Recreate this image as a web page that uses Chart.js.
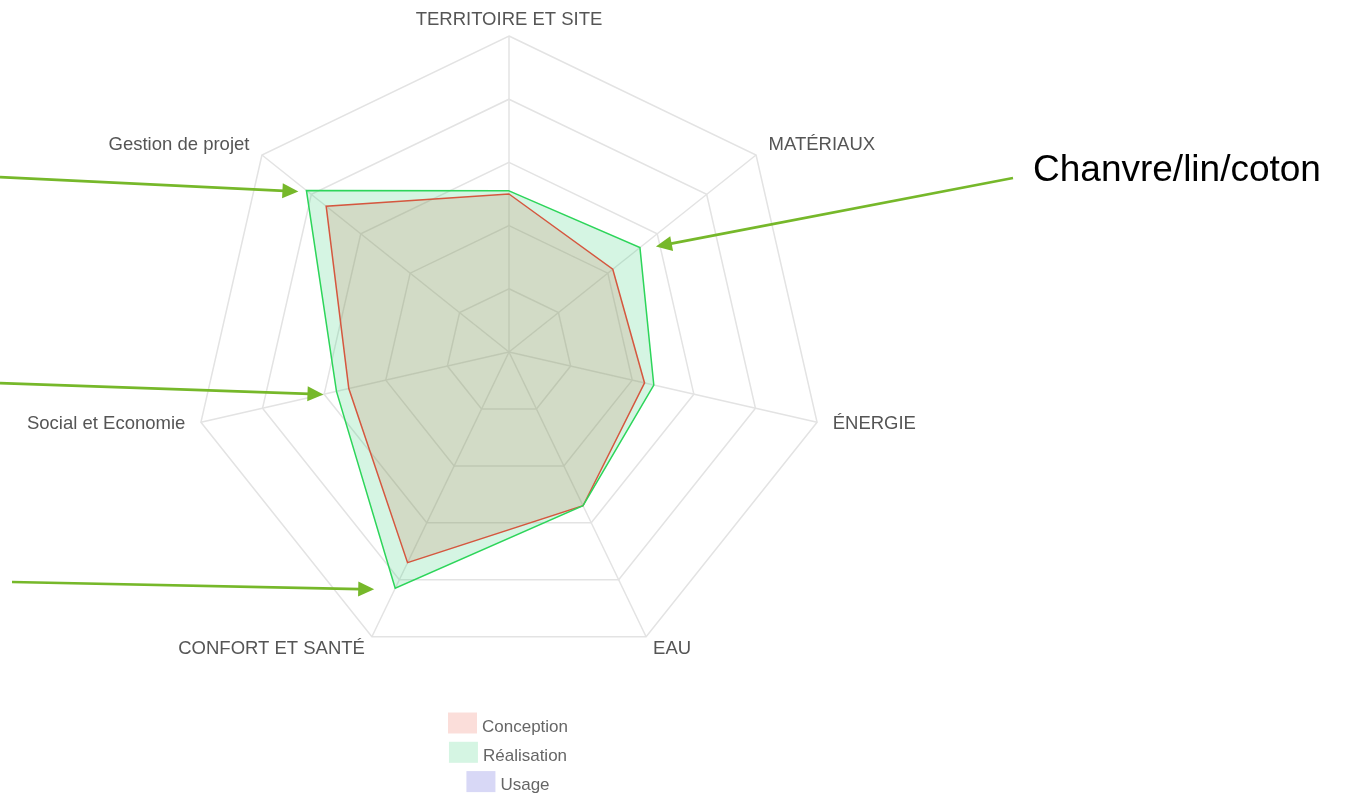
<!DOCTYPE html>
<html lang="fr">
<head>
  <meta charset="UTF-8" />
  <meta name="viewport" content="width=device-width, initial-scale=1.0"/>
  <title>Profil environnemental - Chanvre/lin/coton</title>
  <script src="https://cdn.jsdelivr.net/npm/chart.js"></script>
  <style>
    body {
      margin: 0;
      padding: 0;
      background-color: #fff;
      font-family: 'Liberation Sans', Arial, sans-serif;
    }

    .cadre {
      position: relative;
      width: 1353px;
      height: 794px;
    }
  </style>
</head>
<body>
  <div class="cadre">
    <canvas id="radar"></canvas>
  </div>

  <script>
    // Thèmes évalués, dans le sens horaire depuis le haut
    const themes = ["TERRITOIRE ET SITE", "MATÉRIAUX", "ÉNERGIE", "EAU", "CONFORT ET SANTÉ", "Social et Economie", "Gestion de projet"];

    // Scores par phase (sur 100)
    const conception = [50, 42, 44, 54, 74, 52, 74];
    const realisation = [51, 53, 47, 54, 83, 56, 82];
    const usage = []; // pas encore évalué

    const scoreMax = 100;
    const pas = 20;

    const police = "'Liberation Sans', Arial, sans-serif";

    // Libellés des axes, posés un peu au-delà du dernier anneau
    const libellesAxes = {
      id: "libellesAxes",
      afterDraw(chart) {
        const r = chart.scales.r;
        const ctx = chart.ctx;
        ctx.save();
        ctx.font = "18.5px " + police;
        ctx.fillStyle = "#555";
        ctx.textBaseline = "middle";
        chart.data.labels.forEach((texte, i) => {
          const p = r.getPointPosition(i, r.drawingArea + 16);
          const deg = Math.round(r.getIndexAngle(i) * 180 / Math.PI) % 360;
          ctx.textAlign = (deg === 0 || deg === 180) ? "center" : (deg < 180 ? "left" : "right");
          const haut = deg < 90 || deg > 270;
          ctx.fillText(texte, p.x, haut ? p.y : p.y - 2);
        });
        ctx.restore();
      }
    };

    // Légende empilée sous le radar
    const legendeEmpilee = {
      id: "legendeEmpilee",
      afterDraw(chart) {
        const ctx = chart.ctx;
        const cx = chart.scales.r.xCenter - 1;
        ctx.save();
        ctx.font = "17px " + police;
        ctx.textBaseline = "middle";
        ctx.textAlign = "left";
        chart.data.datasets.forEach((ds, i) => {
          const y = 723 + i * 29.3;
          const largeur = 29 + 5 + ctx.measureText(ds.label).width;
          const x = cx - largeur / 2;
          ctx.fillStyle = ds.backgroundColor;
          ctx.fillRect(x, y - 10.5, 29, 21);
          ctx.fillStyle = "#666";
          ctx.fillText(ds.label, x + 34, y + 4);
        });
        ctx.restore();
      }
    };

    // Flèches d'annotation vers les points de la série Réalisation
    const fleches = [
      { index: 6, depuis: [0, 177], decalage: [-8, 1] },
      { index: 5, depuis: [0, 383], decalage: [-13, 3] },
      { index: 4, depuis: [12, 582], decalage: [-21, 1] },
      { index: 1, depuis: [1013, 178], decalage: [16, -1] }
    ];
    const note = "Chanvre/lin/coton";

    const annotations = {
      id: "annotations",
      afterDraw(chart) {
        const ctx = chart.ctx;
        const points = chart.getDatasetMeta(1).data;
        ctx.save();
        ctx.strokeStyle = "#76b82a";
        ctx.fillStyle = "#76b82a";
        ctx.lineWidth = 2.75;
        fleches.forEach(f => {
          const pt = points[f.index];
          const bx = pt.x + f.decalage[0];
          const by = pt.y + f.decalage[1];
          const [ax, ay] = f.depuis;
          const ang = Math.atan2(by - ay, bx - ax);
          const lg = 16, demi = 7.5;
          const baseX = bx - lg * Math.cos(ang);
          const baseY = by - lg * Math.sin(ang);
          ctx.beginPath();
          ctx.moveTo(ax, ay);
          ctx.lineTo(baseX + 2 * Math.cos(ang), baseY + 2 * Math.sin(ang));
          ctx.stroke();
          ctx.beginPath();
          ctx.moveTo(bx, by);
          ctx.lineTo(baseX - demi * Math.sin(ang), baseY + demi * Math.cos(ang));
          ctx.lineTo(baseX + demi * Math.sin(ang), baseY - demi * Math.cos(ang));
          ctx.closePath();
          ctx.fill();
        });
        ctx.fillStyle = "#000";
        ctx.font = "37px " + police;
        ctx.textAlign = "left";
        ctx.textBaseline = "alphabetic";
        ctx.fillText(note, 1033, 181);
        ctx.restore();
      }
    };

    new Chart(document.getElementById("radar"), {
      type: "radar",
      data: {
        labels: themes,
        datasets: [{
          label: "Conception",
          data: conception,
          backgroundColor: "rgba(235, 90, 70, 0.2)",
          borderColor: "#d5573f",
          borderWidth: 1.5,
          order: 1
        }, {
          label: "Réalisation",
          data: realisation,
          backgroundColor: "rgba(46, 204, 113, 0.2)",
          borderColor: "#2dd55a",
          borderWidth: 1.5,
          order: 0
        }, {
          label: "Usage",
          data: usage,
          backgroundColor: "rgba(60, 60, 210, 0.2)",
          borderColor: "#5a5ad2",
          borderWidth: 1.5,
          order: 0
        }]
      },
      options: {
        responsive: true,
        maintainAspectRatio: false,
        animation: false,
        layout: {
          padding: { top: 36, bottom: 126, left: 0, right: 335 }
        },
        elements: {
          line: { tension: 0 },
          point: { radius: 0, hoverRadius: 0 }
        },
        plugins: {
          legend: { display: false },
          tooltip: { enabled: false },
          // toutes les surfaces d'abord, les contours par-dessus
          filler: { drawTime: "beforeDatasetsDraw" }
        },
        scales: {
          r: {
            min: 0,
            max: scoreMax,
            ticks: { display: false, stepSize: pas },
            grid: { color: "#e3e3e3", lineWidth: 1.5 },
            angleLines: { color: "#e3e3e3", lineWidth: 1.5 },
            pointLabels: { display: false }
          }
        }
      },
      plugins: [libellesAxes, legendeEmpilee, annotations]
    });
  </script>
</body>
</html>
